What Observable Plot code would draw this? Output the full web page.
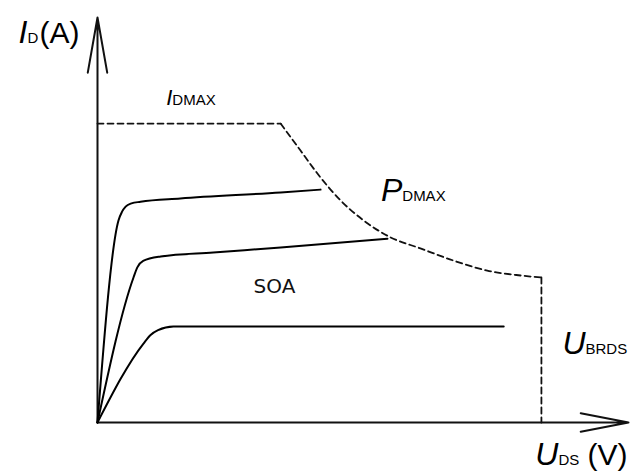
<!DOCTYPE html>
<html>
<head>
<meta charset="utf-8">
<script src="https://cdn.jsdelivr.net/npm/d3@7"></script>
<script src="https://cdn.jsdelivr.net/npm/@observablehq/plot@0.6"></script>
<style>
  body { margin: 0; background: #fff; }
</style>
</head>
<body>
<div id="chart"></div>
<script>
// MOSFET output characteristics and safe operating area (schematic units: u = V, i = A)

// Drain current curves for three gate voltages
const curveHigh = [
  {u: 0, i: 0}, {u: 3.95, i: 49.9}, {u: 4.6, i: 52.0}, {u: 5.3, i: 53.3},
  {u: 6.4, i: 54.1}, {u: 8.1, i: 54.5}, {u: 15.6, i: 55.3}, {u: 34.5, i: 56.8},
  {u: 42.0, i: 57.5}
];
const curveMid = [
  {u: 0, i: 0}, {u: 6.78, i: 35.8}, {u: 7.5, i: 38.3}, {u: 8.6, i: 39.9},
  {u: 11.9, i: 41.0}, {u: 21.8, i: 42.0}, {u: 34.5, i: 43.2}, {u: 54.6, i: 45.4}
];
const curveLow = [
  {u: 0, i: 0}, {u: 8.66, i: 19.5}, {u: 10.0, i: 21.6}, {u: 11.4, i: 22.8},
  {u: 14.3, i: 23.7}, {u: 34.5, i: 23.7}, {u: 76.5, i: 23.7}
];

// SOA boundary: max drain current, max power dissipation, breakdown voltage
const idmaxLimit = [{u: 0, i: 73.8}, {u: 34.5, i: 73.8}];
const pdmaxLimit = [
  {u: 34.5, i: 73.8}, {u: 38.2, i: 67.2}, {u: 42.0, i: 60.5}, {u: 45.8, i: 54.8},
  {u: 50.1, i: 49.9}, {u: 55.2, i: 45.7}, {u: 60.8, i: 43.0}, {u: 67.0, i: 40.0},
  {u: 73.4, i: 37.5}, {u: 79.7, i: 36.3}, {u: 83.6, i: 35.8}
];
const ubrdsLimit = [{u: 83.6, i: 35.8}, {u: 83.6, i: 0}];

// Axes drawn as arrows
const yAxisArrow = [{u1: 0, i1: 0, u2: 0, i2: 100}];
const xAxisArrow = [{u1: 0, i1: 0, u2: 100, i2: 0}];

// Annotations (symbol + subscript), anchored at the join of symbol and subscript
const symbolLabels = [
  {name: "I", sub: "D", u: -13.2, i: 93.8},
  {name: "U", sub: "DS", u: 86.8, i: -10.6},
  {name: "P", sub: "DMAX", u: 57.4, i: 54.8},
  {name: "U", sub: "BRDS", u: 91.9, i: 16.8}
];
const smallSymbolLabels = [{name: "I", sub: "DMAX", u: 14.1, i: 78.3}];
const unitLabels = [
  {text: "(A)", u: -10.9, i: 93.8},
  {text: "(V)", u: 92.3, i: -10.6}
];
const regionLabels = [{text: "SOA", u: 29.4, i: 31.9}];

const font = "Liberation Sans, Arial, sans-serif";
const dash = "6,4";

const chart = Plot.plot({
  width: 630,
  height: 471,
  marginLeft: 97,
  marginRight: 2,
  marginTop: 17,
  marginBottom: 49,
  x: {domain: [0, 100], axis: null},
  y: {domain: [0, 100], axis: null},
  style: {background: "#fff", overflow: "visible"},
  marks: [
    Plot.arrow(yAxisArrow, {x1: "u1", y1: "i1", x2: "u2", y2: "i2",
      stroke: "#111", strokeWidth: 2, headLength: 42, headAngle: 20}),
    Plot.arrow(xAxisArrow, {x1: "u1", y1: "i1", x2: "u2", y2: "i2",
      stroke: "#111", strokeWidth: 2, headLength: 36.5, headAngle: 22}),

    Plot.line(idmaxLimit, {x: "u", y: "i", stroke: "#111", strokeWidth: 1.8, strokeDasharray: dash}),
    Plot.line(pdmaxLimit, {x: "u", y: "i", stroke: "#111", strokeWidth: 1.8, strokeDasharray: dash, curve: "monotone-x"}),
    Plot.line(ubrdsLimit, {x: "u", y: "i", stroke: "#111", strokeWidth: 1.8, strokeDasharray: dash}),

    Plot.line(curveHigh, {x: "u", y: "i", stroke: "#000", strokeWidth: 2, curve: "monotone-x"}),
    Plot.line(curveMid, {x: "u", y: "i", stroke: "#000", strokeWidth: 2, curve: "monotone-x"}),
    Plot.line(curveLow, {x: "u", y: "i", stroke: "#000", strokeWidth: 2, curve: "monotone-x"}),

    Plot.text(symbolLabels, {x: "u", y: "i", text: "name", textAnchor: "end", lineAnchor: "bottom",
      fontFamily: font, fontStyle: "italic", fontSize: 32, fill: "#000"}),
    Plot.text(symbolLabels, {x: "u", y: "i", text: "sub", textAnchor: "start", lineAnchor: "bottom",
      fontFamily: font, fontSize: 15, fill: "#000"}),
    Plot.text(smallSymbolLabels, {x: "u", y: "i", text: "name", textAnchor: "end", lineAnchor: "bottom",
      fontFamily: font, fontStyle: "italic", fontSize: 22, fill: "#000"}),
    Plot.text(smallSymbolLabels, {x: "u", y: "i", text: "sub", textAnchor: "start", lineAnchor: "bottom",
      fontFamily: font, fontSize: 15, fill: "#000"}),
    Plot.text(unitLabels, {x: "u", y: "i", text: "text", textAnchor: "start", lineAnchor: "bottom",
      fontFamily: font, fontSize: 30, fill: "#000"}),
    Plot.text(regionLabels, {x: "u", y: "i", text: "text", textAnchor: "start", lineAnchor: "bottom",
      fontFamily: "DejaVu Sans, sans-serif", fontSize: 20, fill: "#111"})
  ]
});

document.getElementById("chart").appendChild(chart);
</script>
</body>
</html>
